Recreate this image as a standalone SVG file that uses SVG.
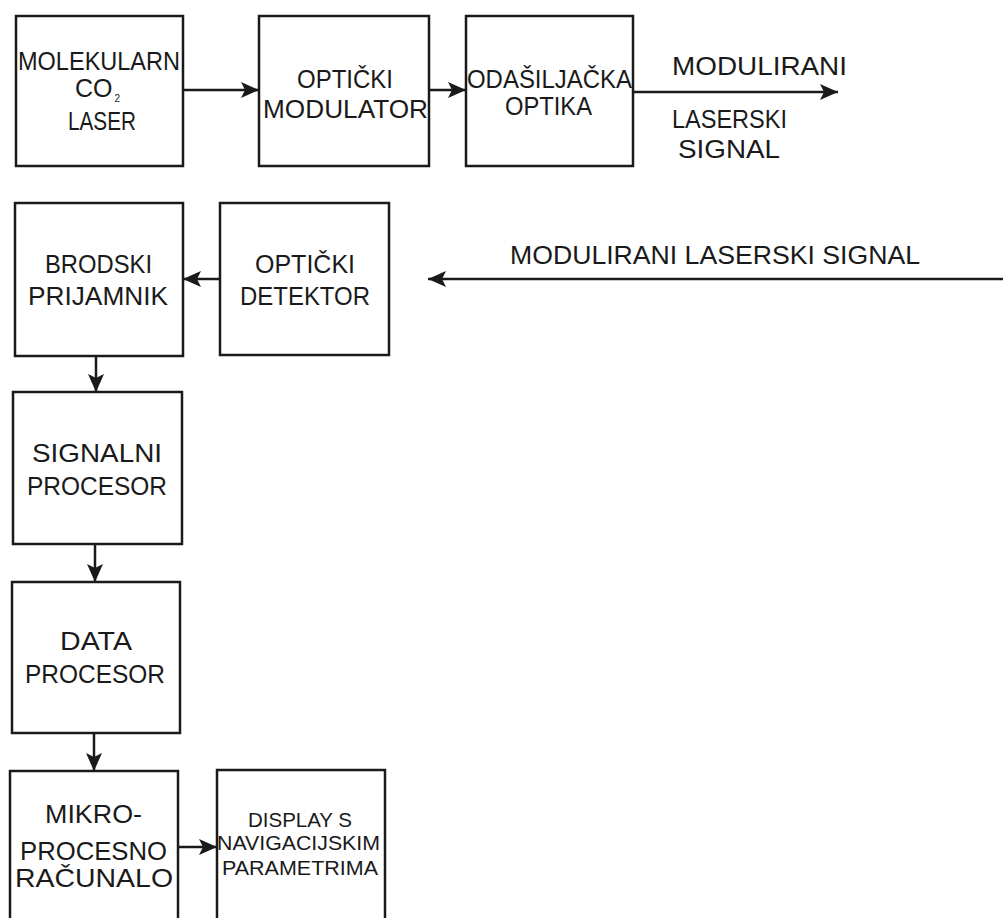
<svg xmlns="http://www.w3.org/2000/svg" width="1003" height="918" viewBox="0 0 1003 918">
<defs>
<style>
.box{fill:#fff;stroke:#1a1a1a;stroke-width:2.5}
.c{fill:none;stroke:#1a1a1a;stroke-width:2.5}
text{font-family:"Liberation Sans",Arial,sans-serif;font-size:25px;fill:#1a1a1a}
.s{font-size:21px}
.sub{font-size:10px}
</style>
<marker id="ah" markerUnits="userSpaceOnUse" markerWidth="20" markerHeight="16" refX="18" refY="8" orient="auto">
<path d="M0,0 L18,8 L0,16 L4,8 Z" fill="#1a1a1a"/>
</marker>
</defs>
<rect width="1003" height="918" fill="#fff"/>
<g id="connectors">
<line class="c" x1="183" y1="90" x2="259" y2="90" marker-end="url(#ah)"/>
<line class="c" x1="429" y1="90" x2="466" y2="90" marker-end="url(#ah)"/>
<line class="c" x1="633" y1="92" x2="838" y2="92" marker-end="url(#ah)"/>
<line class="c" x1="1003" y1="279" x2="428" y2="279" marker-end="url(#ah)"/>
<line class="c" x1="220" y1="279" x2="183" y2="279" marker-end="url(#ah)"/>
<line class="c" x1="96" y1="356" x2="96" y2="392" marker-end="url(#ah)"/>
<line class="c" x1="95" y1="544" x2="95" y2="582" marker-end="url(#ah)"/>
<line class="c" x1="94" y1="733" x2="94" y2="771" marker-end="url(#ah)"/>
<line class="c" x1="178" y1="847" x2="217" y2="847" marker-end="url(#ah)"/>
</g>
<g id="labels">
<text x="672" y="75" textLength="175" lengthAdjust="spacingAndGlyphs">MODULIRANI</text>
<text x="672" y="128" textLength="115" lengthAdjust="spacingAndGlyphs">LASERSKI</text>
<text x="678" y="158" textLength="102" lengthAdjust="spacingAndGlyphs">SIGNAL</text>
<text x="510" y="264" textLength="410" lengthAdjust="spacingAndGlyphs">MODULIRANI LASERSKI SIGNAL</text>
</g>
<g id="laser">
<rect class="box" x="16" y="16" width="167" height="150"/>
<text x="18" y="70" textLength="162" lengthAdjust="spacingAndGlyphs">MOLEKULARN</text>
<text x="75" y="97">CO<tspan class="sub" dx="2" dy="5">2</tspan></text>
<text x="68" y="130" textLength="68" lengthAdjust="spacingAndGlyphs">LASER</text>
</g>
<g id="modulator">
<rect class="box" x="259" y="16" width="170" height="150"/>
<text x="297" y="88" textLength="96" lengthAdjust="spacingAndGlyphs">OPTIČKI</text>
<text x="263" y="118" textLength="165" lengthAdjust="spacingAndGlyphs">MODULATOR</text>
</g>
<g id="odasiljacka">
<rect class="box" x="466" y="16" width="167" height="150"/>
<text x="467" y="88" textLength="165" lengthAdjust="spacingAndGlyphs">ODAŠILJAČKA</text>
<text x="505" y="115" textLength="87" lengthAdjust="spacingAndGlyphs">OPTIKA</text>
</g>
<g id="prijamnik">
<rect class="box" x="15" y="203" width="168" height="153"/>
<text x="45" y="273" textLength="107" lengthAdjust="spacingAndGlyphs">BRODSKI</text>
<text x="28" y="305" textLength="140" lengthAdjust="spacingAndGlyphs">PRIJAMNIK</text>
</g>
<g id="detektor">
<rect class="box" x="220" y="203" width="169" height="152"/>
<text x="255" y="273" textLength="100" lengthAdjust="spacingAndGlyphs">OPTIČKI</text>
<text x="240" y="305" textLength="130" lengthAdjust="spacingAndGlyphs">DETEKTOR</text>
</g>
<g id="signalni">
<rect class="box" x="13" y="392" width="169" height="152"/>
<text x="32" y="462" textLength="130" lengthAdjust="spacingAndGlyphs">SIGNALNI</text>
<text x="27" y="495" textLength="140" lengthAdjust="spacingAndGlyphs">PROCESOR</text>
</g>
<g id="data">
<rect class="box" x="12" y="582" width="168" height="151"/>
<text x="60" y="650" textLength="72" lengthAdjust="spacingAndGlyphs">DATA</text>
<text x="25" y="683" textLength="140" lengthAdjust="spacingAndGlyphs">PROCESOR</text>
</g>
<g id="racunalo">
<rect class="box" x="10" y="771" width="168" height="160"/>
<text x="45" y="823" textLength="97" lengthAdjust="spacingAndGlyphs">MIKRO-</text>
<text x="20" y="860" textLength="147" lengthAdjust="spacingAndGlyphs">PROCESNO</text>
<text x="15" y="887" textLength="158" lengthAdjust="spacingAndGlyphs">RAČUNALO</text>
</g>
<g id="display">
<rect class="box" x="217" y="770" width="168" height="160"/>
<text class="s" x="248" y="827" textLength="104" lengthAdjust="spacingAndGlyphs">DISPLAY S</text>
<text class="s" x="217" y="850" textLength="163" lengthAdjust="spacingAndGlyphs">NAVIGACIJSKIM</text>
<text class="s" x="222" y="875" textLength="156" lengthAdjust="spacingAndGlyphs">PARAMETRIMA</text>
</g>
</svg>
